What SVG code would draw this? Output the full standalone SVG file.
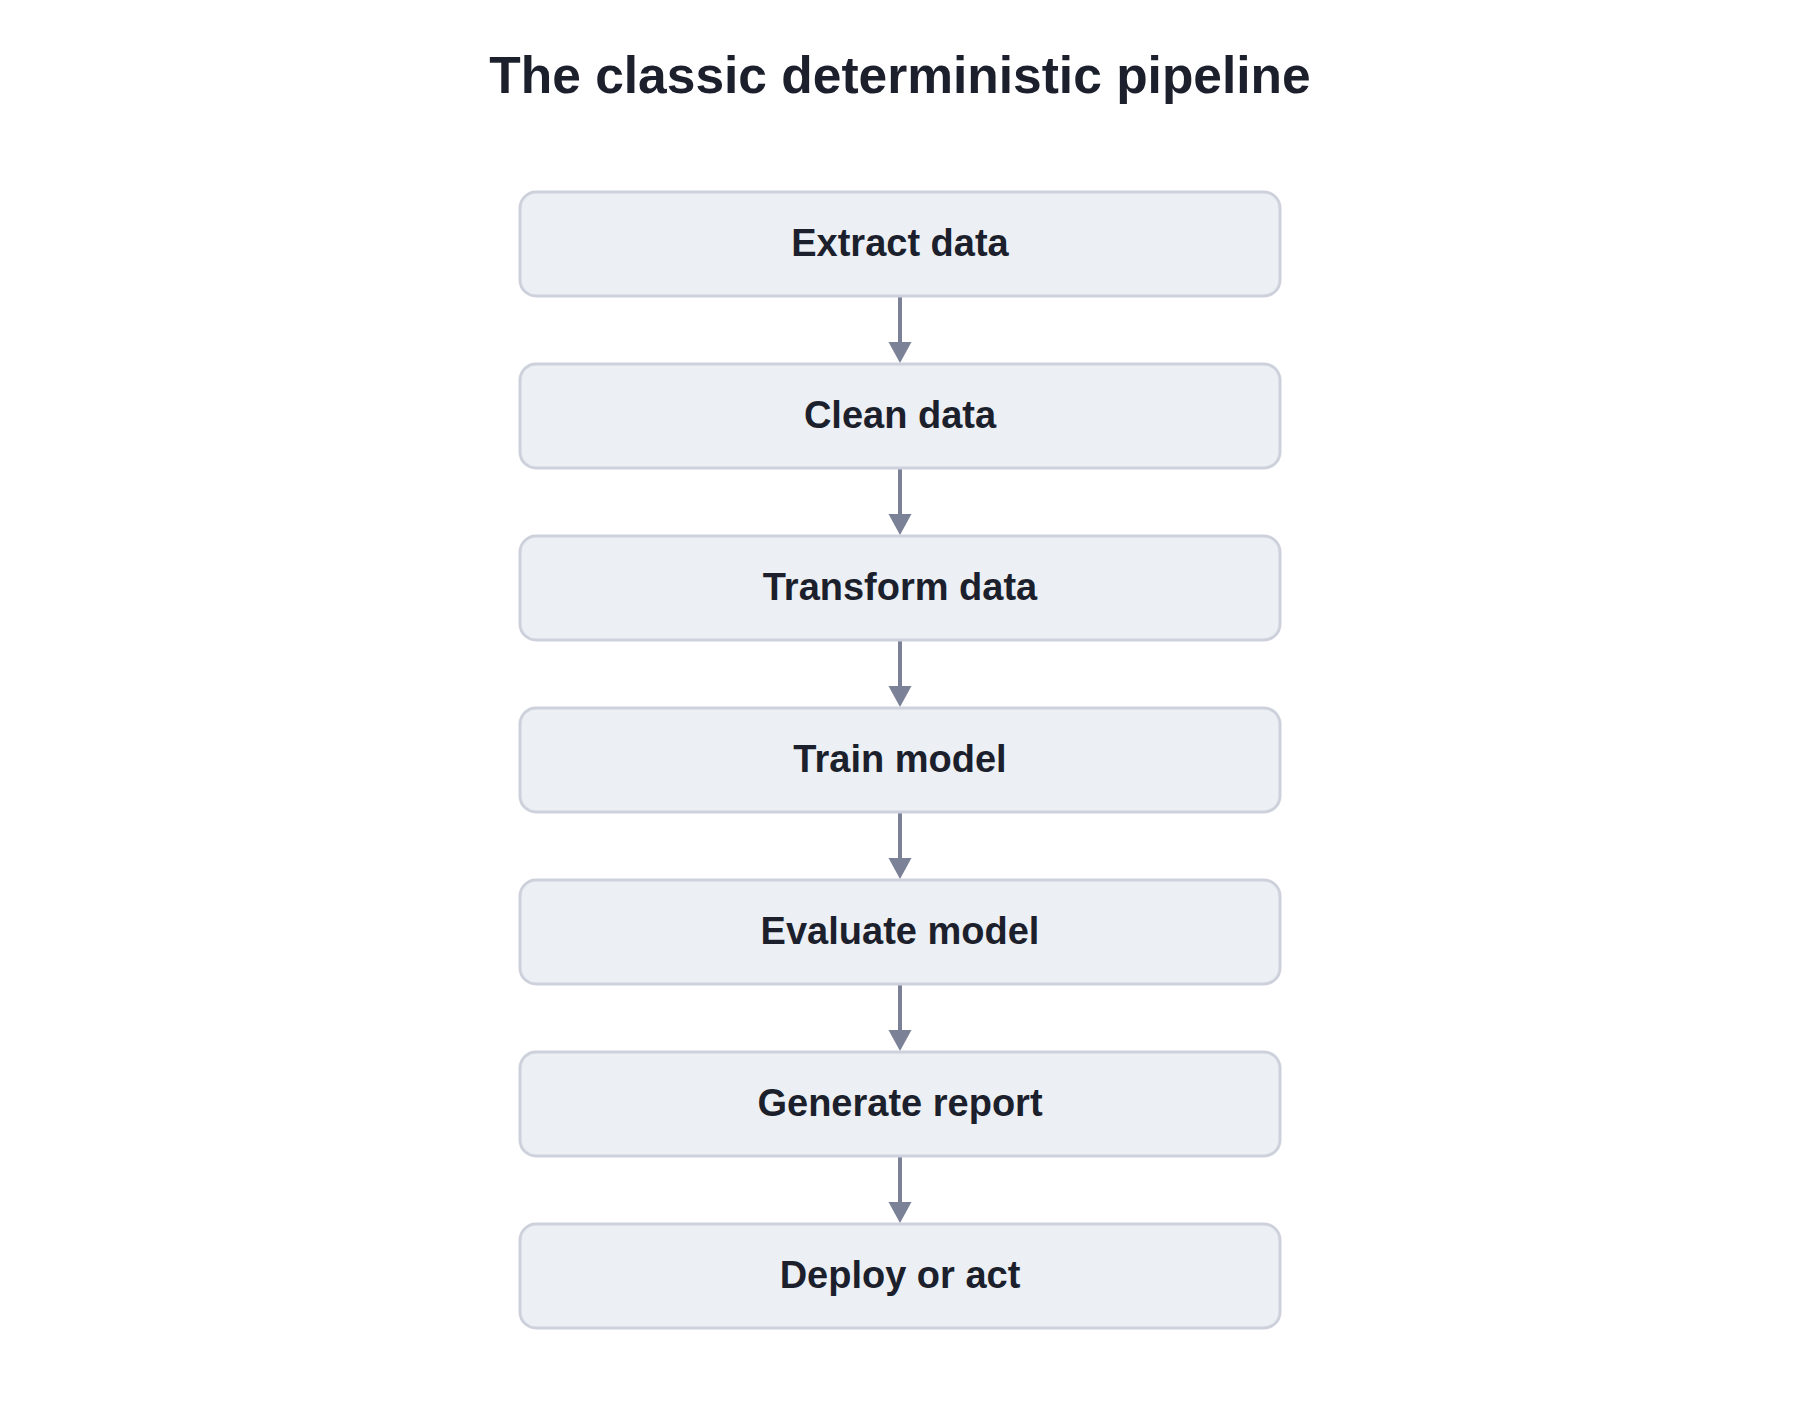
<svg xmlns="http://www.w3.org/2000/svg" width="1800" height="1420" viewBox="0 0 1800 1420">
<defs>
<style>
.box{fill:#eceff4;stroke:#cdd1dc;stroke-width:3}
.lbl{font-family:"Liberation Sans",Arial,sans-serif;font-weight:bold;font-size:38px;fill:#1c1f2c;text-anchor:middle}
.title{font-family:"Liberation Sans",Arial,sans-serif;font-weight:bold;font-size:51.5px;fill:#1c1f2c;text-anchor:middle}
.edge{stroke:#7b8196;stroke-width:4;fill:none}
.head{fill:#7b8196}
</style>
</defs>
<rect width="1800" height="1420" fill="#ffffff"/>
<text class="title" x="900" y="93">The classic deterministic pipeline</text>
<g id="connectors">
<line class="edge" x1="900" y1="296" x2="900" y2="344"/><polygon class="head" points="888.5,342 911.5,342 900,363"/>
<line class="edge" x1="900" y1="468" x2="900" y2="516"/><polygon class="head" points="888.5,514 911.5,514 900,535"/>
<line class="edge" x1="900" y1="640" x2="900" y2="688"/><polygon class="head" points="888.5,686 911.5,686 900,707"/>
<line class="edge" x1="900" y1="812" x2="900" y2="860"/><polygon class="head" points="888.5,858 911.5,858 900,879"/>
<line class="edge" x1="900" y1="984" x2="900" y2="1032"/><polygon class="head" points="888.5,1030 911.5,1030 900,1051"/>
<line class="edge" x1="900" y1="1156" x2="900" y2="1204"/><polygon class="head" points="888.5,1202 911.5,1202 900,1223"/>
</g>
<g id="n1"><rect class="box" x="520" y="192" width="760" height="104" rx="16"/><text class="lbl" x="900" y="256">Extract data</text></g>
<g id="n2"><rect class="box" x="520" y="364" width="760" height="104" rx="16"/><text class="lbl" x="900" y="428">Clean data</text></g>
<g id="n3"><rect class="box" x="520" y="536" width="760" height="104" rx="16"/><text class="lbl" x="900" y="600">Transform data</text></g>
<g id="n4"><rect class="box" x="520" y="708" width="760" height="104" rx="16"/><text class="lbl" x="900" y="772">Train model</text></g>
<g id="n5"><rect class="box" x="520" y="880" width="760" height="104" rx="16"/><text class="lbl" x="900" y="944">Evaluate model</text></g>
<g id="n6"><rect class="box" x="520" y="1052" width="760" height="104" rx="16"/><text class="lbl" x="900" y="1116">Generate report</text></g>
<g id="n7"><rect class="box" x="520" y="1224" width="760" height="104" rx="16"/><text class="lbl" x="900" y="1288">Deploy or act</text></g>
</svg>
